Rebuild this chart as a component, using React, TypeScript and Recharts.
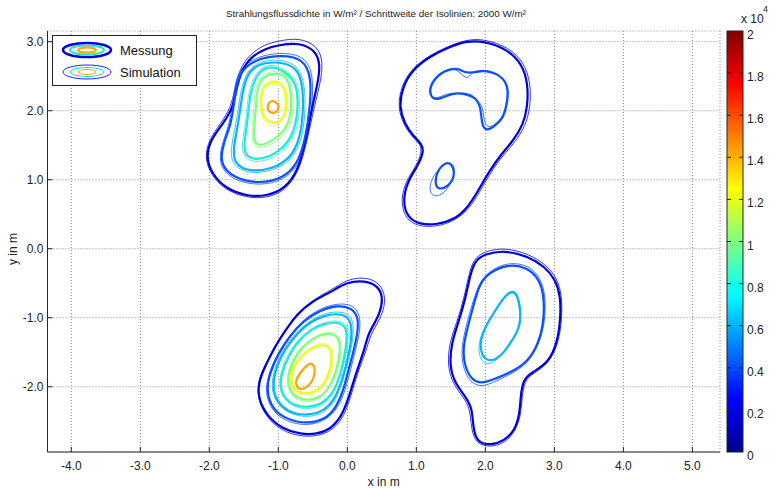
import React from "react";
import { LineChart, Line, XAxis, YAxis, CartesianGrid } from "recharts";

// axes
const X_TICKS = [-4, -3, -2, -1, 0, 1, 2, 3, 4, 5];
const Y_TICKS = [-2, -1, 0, 1, 2, 3];
const X_DOMAIN = [-4.345, 5.4];
const Y_DOMAIN = [-2.946, 3.155];

// isoline levels (W/m²) and their colors (jet)
const LEVELS = [2000, 4000, 6000, 8000, 10000, 12000, 14000];
const LEVEL_COLORS = ["#0000d8", "#0a50ff", "#08b4fa", "#20e8dc", "#80ff80", "#e8ff1a", "#ffa400"];
const CBAR_TICKS = [0, 0.2, 0.4, 0.6, 0.8, 1, 1.2, 1.4, 1.6, 1.8, 2];

// ---- blob 1 (top left) ----
const b1Mess2000 = [[-1.0, 2.95], [-0.69, 2.99], [-0.46, 2.87], [-0.39, 2.67], [-0.43, 2.39], [-0.51, 2.06], [-0.57, 1.72], [-0.64, 1.43], [-0.72, 1.13], [-0.9, 0.87], [-1.17, 0.76], [-1.46, 0.76], [-1.76, 0.87], [-1.96, 1.08], [-2.05, 1.33], [-1.98, 1.58], [-1.81, 1.8], [-1.66, 2.03], [-1.61, 2.3], [-1.54, 2.57], [-1.4, 2.78], [-1.19, 2.9]];
const b1Mess4000 = [[-0.98, 2.81], [-0.64, 2.76], [-0.52, 2.49], [-0.54, 2.06], [-0.6, 1.63], [-0.71, 1.24], [-0.93, 1.02], [-1.27, 0.94], [-1.65, 1.02], [-1.85, 1.23], [-1.8, 1.52], [-1.68, 1.81], [-1.63, 2.2], [-1.58, 2.54], [-1.36, 2.74]];
const b1Mess6000 = [[-1.0, 2.71], [-0.73, 2.64], [-0.64, 2.35], [-0.64, 1.96], [-0.69, 1.57], [-0.83, 1.31], [-1.07, 1.16], [-1.41, 1.11], [-1.65, 1.23], [-1.65, 1.48], [-1.58, 1.81], [-1.53, 2.2], [-1.46, 2.54], [-1.27, 2.69]];
const b1Mess8000 = [[-1.02, 2.64], [-0.73, 2.44], [-0.71, 2.06], [-0.76, 1.72], [-0.9, 1.48], [-1.12, 1.33], [-1.36, 1.28], [-1.51, 1.38], [-1.48, 1.62], [-1.44, 1.91], [-1.41, 2.25], [-1.31, 2.54], [-1.17, 2.63]];
const b1Mess10000 = [[-1.02, 2.55], [-0.86, 2.49], [-0.81, 2.2], [-0.82, 1.91], [-0.9, 1.72], [-1.07, 1.57], [-1.27, 1.48], [-1.36, 1.55], [-1.35, 1.77], [-1.32, 2.06], [-1.31, 2.35], [-1.19, 2.52]];
const b1Mess12000 = [[-1.05, 2.44], [-0.92, 2.37], [-0.87, 2.2], [-0.89, 1.94], [-1.0, 1.81], [-1.19, 1.84], [-1.26, 2.06], [-1.24, 2.3], [-1.17, 2.4]];
const b1Mess14000 = [[-1.08, 2.15], [-1.01, 2.11], [-0.99, 2.05], [-1.02, 1.98], [-1.08, 1.96], [-1.15, 1.99], [-1.16, 2.06], [-1.13, 2.13]];
const b1Sim2000 = [[-1.0, 3.01], [-0.7, 3.06], [-0.43, 2.94], [-0.35, 2.71], [-0.39, 2.4], [-0.48, 2.06], [-0.55, 1.72], [-0.62, 1.42], [-0.71, 1.11], [-0.9, 0.84], [-1.17, 0.73], [-1.47, 0.74], [-1.77, 0.85], [-1.98, 1.07], [-2.07, 1.33], [-2.0, 1.59], [-1.84, 1.81], [-1.69, 2.04], [-1.63, 2.32], [-1.56, 2.61], [-1.41, 2.82], [-1.2, 2.96]];
const b1Sim4000 = [[-0.98, 2.85], [-0.62, 2.8], [-0.49, 2.52], [-0.51, 2.07], [-0.57, 1.62], [-0.69, 1.22], [-0.92, 0.99], [-1.27, 0.91], [-1.67, 0.99], [-1.87, 1.22], [-1.82, 1.52], [-1.7, 1.82], [-1.65, 2.21], [-1.6, 2.56], [-1.37, 2.77]];
const b1Sim6000 = [[-1.0, 2.75], [-0.71, 2.67], [-0.61, 2.35], [-0.61, 1.95], [-0.66, 1.56], [-0.81, 1.28], [-1.07, 1.13], [-1.42, 1.08], [-1.68, 1.21], [-1.69, 1.47], [-1.61, 1.81], [-1.56, 2.2], [-1.48, 2.56], [-1.27, 2.72]];
const b1Sim8000 = [[-1.02, 2.67], [-0.71, 2.47], [-0.68, 2.06], [-0.73, 1.7], [-0.89, 1.44], [-1.12, 1.29], [-1.37, 1.24], [-1.54, 1.36], [-1.51, 1.62], [-1.46, 1.92], [-1.44, 2.26], [-1.33, 2.57], [-1.17, 2.66]];
const b1Sim10000 = [[-1.03, 2.58], [-0.84, 2.52], [-0.78, 2.2], [-0.79, 1.9], [-0.88, 1.68], [-1.07, 1.52], [-1.28, 1.44], [-1.39, 1.53], [-1.38, 1.78], [-1.35, 2.06], [-1.34, 2.36], [-1.21, 2.55]];
const b1Sim12000 = [[-1.05, 2.4], [-0.93, 2.33], [-0.89, 2.16], [-0.92, 1.9], [-1.02, 1.76], [-1.19, 1.79], [-1.28, 2.04], [-1.26, 2.28], [-1.17, 2.37]];

// ---- blob 2 (top right) ----
const b2Mess2000 = [[1.98, 3.01], [2.32, 2.89], [2.53, 2.68], [2.62, 2.39], [2.61, 2.05], [2.55, 1.8], [2.4, 1.56], [2.23, 1.37], [2.06, 1.13], [1.89, 0.83], [1.74, 0.59], [1.55, 0.42], [1.3, 0.35], [1.05, 0.35], [0.87, 0.45], [0.8, 0.7], [0.88, 0.99], [1.01, 1.18], [1.11, 1.4], [1.08, 1.52], [0.95, 1.64], [0.83, 1.81], [0.75, 2.05], [0.8, 2.35], [0.95, 2.6], [1.2, 2.79], [1.49, 2.93], [1.73, 3.01]];
const b2Mess4000a = [[1.18, 2.24], [1.23, 2.43], [1.4, 2.58], [1.59, 2.63], [1.73, 2.53], [1.93, 2.58], [2.07, 2.57], [2.27, 2.48], [2.34, 2.29], [2.31, 2.1], [2.27, 1.9], [2.12, 1.76], [2.02, 1.71], [1.95, 1.78], [1.94, 1.98], [1.9, 2.14], [1.78, 2.24], [1.59, 2.26], [1.44, 2.22], [1.28, 2.14]];
const b2Mess4000b = [[1.47, 1.26], [1.54, 1.18], [1.55, 1.04], [1.49, 0.94], [1.4, 0.87], [1.3, 0.87], [1.27, 0.97], [1.3, 1.11], [1.37, 1.21]];
const b2Sim2000 = [[1.98, 3.04], [2.34, 2.92], [2.56, 2.7], [2.66, 2.39], [2.65, 2.04], [2.58, 1.78], [2.43, 1.54], [2.25, 1.35], [2.08, 1.11], [1.91, 0.81], [1.76, 0.57], [1.55, 0.4], [1.3, 0.32], [1.03, 0.32], [0.84, 0.43], [0.77, 0.7], [0.85, 0.99], [0.99, 1.18], [1.08, 1.4], [1.06, 1.51], [0.93, 1.63], [0.81, 1.81], [0.73, 2.05], [0.78, 2.36], [0.94, 2.62], [1.2, 2.81], [1.5, 2.95], [1.74, 3.03]];
const b2Sim4000a = [[1.17, 2.24], [1.21, 2.43], [1.39, 2.59], [1.59, 2.62], [1.73, 2.43], [1.8, 2.56], [1.93, 2.59], [2.08, 2.58], [2.27, 2.48], [2.33, 2.28], [2.3, 2.09], [2.25, 1.9], [2.12, 1.78], [2.03, 1.76], [1.98, 1.84], [1.97, 2.01], [1.92, 2.13], [1.8, 2.2], [1.6, 2.26], [1.44, 2.25], [1.27, 2.16]];
const b2Sim4000b = [[1.49, 1.27], [1.57, 1.16], [1.52, 0.99], [1.42, 0.82], [1.3, 0.75], [1.2, 0.79], [1.19, 0.94], [1.28, 1.11], [1.4, 1.21]];

// ---- blob 3 (bottom left) ----
const b3Mess2000 = [[0.0, -0.48], [0.25, -0.46], [0.45, -0.54], [0.52, -0.72], [0.47, -0.93], [0.4, -1.07], [0.3, -1.24], [0.25, -1.45], [0.18, -1.65], [0.08, -1.95], [0.01, -2.19], [-0.09, -2.44], [-0.24, -2.61], [-0.44, -2.69], [-0.68, -2.69], [-0.94, -2.61], [-1.16, -2.43], [-1.29, -2.18], [-1.29, -1.93], [-1.18, -1.68], [-1.06, -1.44], [-0.94, -1.25], [-0.74, -0.95], [-0.49, -0.75], [-0.24, -0.63]];
const b3Mess4000 = [[-0.15, -0.82], [0.05, -0.85], [0.15, -0.97], [0.16, -1.16], [0.1, -1.45], [0.02, -1.74], [-0.05, -2.03], [-0.15, -2.28], [-0.29, -2.45], [-0.49, -2.52], [-0.73, -2.52], [-0.98, -2.42], [-1.12, -2.25], [-1.17, -2.03], [-1.12, -1.79], [-1.0, -1.52], [-0.83, -1.26], [-0.63, -1.04], [-0.39, -0.89]];
const b3Mess6000 = [[-0.17, -0.94], [0.0, -0.97], [0.07, -1.11], [0.05, -1.4], [-0.02, -1.69], [-0.1, -1.99], [-0.2, -2.2], [-0.34, -2.35], [-0.54, -2.41], [-0.76, -2.4], [-0.95, -2.3], [-1.06, -2.13], [-1.08, -1.94], [-1.02, -1.69], [-0.9, -1.45], [-0.73, -1.23], [-0.54, -1.06], [-0.34, -0.97]];
const b3Mess8000 = [[-0.17, -1.06], [-0.02, -1.11], [0.0, -1.31], [-0.05, -1.6], [-0.12, -1.89], [-0.22, -2.11], [-0.37, -2.25], [-0.56, -2.3], [-0.76, -2.28], [-0.9, -2.18], [-0.98, -2.01], [-0.95, -1.79], [-0.85, -1.55], [-0.71, -1.33], [-0.51, -1.16], [-0.34, -1.09]];
const b3Mess10000 = [[-0.24, -1.23], [-0.12, -1.28], [-0.1, -1.48], [-0.15, -1.74], [-0.24, -1.99], [-0.39, -2.16], [-0.56, -2.2], [-0.73, -2.17], [-0.84, -2.06], [-0.87, -1.86], [-0.8, -1.65], [-0.68, -1.45], [-0.51, -1.31], [-0.37, -1.24]];
const b3Mess12000 = [[-0.37, -1.38], [-0.24, -1.43], [-0.22, -1.6], [-0.27, -1.84], [-0.39, -2.03], [-0.56, -2.11], [-0.73, -2.08], [-0.82, -1.96], [-0.8, -1.77], [-0.71, -1.6], [-0.54, -1.45]];
const b3Mess14000 = [[-0.51, -1.65], [-0.46, -1.74], [-0.49, -1.89], [-0.56, -1.99], [-0.66, -2.05], [-0.74, -2.01], [-0.75, -1.89], [-0.66, -1.77], [-0.58, -1.68]];
const b3Sim2000 = [[0.0, -0.44], [0.27, -0.41], [0.48, -0.5], [0.56, -0.72], [0.51, -0.94], [0.43, -1.09], [0.33, -1.26], [0.28, -1.46], [0.2, -1.66], [0.1, -1.96], [0.03, -2.21], [-0.07, -2.47], [-0.23, -2.64], [-0.44, -2.72], [-0.69, -2.72], [-0.95, -2.64], [-1.17, -2.45], [-1.3, -2.18], [-1.3, -1.92], [-1.19, -1.68], [-1.06, -1.43], [-0.93, -1.23], [-0.73, -0.93], [-0.47, -0.72], [-0.23, -0.6]];
const b3Sim4000 = [[-0.14, -0.79], [0.08, -0.81], [0.18, -0.95], [0.19, -1.17], [0.12, -1.46], [0.05, -1.75], [-0.03, -2.05], [-0.13, -2.3], [-0.29, -2.47], [-0.49, -2.55], [-0.74, -2.55], [-0.99, -2.45], [-1.14, -2.26], [-1.19, -2.03], [-1.13, -1.78], [-1.01, -1.51], [-0.83, -1.24], [-0.62, -1.01], [-0.38, -0.86]];
const b3Sim6000 = [[-0.17, -0.91], [0.03, -0.93], [0.1, -1.1], [0.07, -1.41], [-0.01, -1.71], [-0.09, -2.0], [-0.19, -2.23], [-0.34, -2.38], [-0.54, -2.44], [-0.76, -2.42], [-0.96, -2.32], [-1.08, -2.13], [-1.1, -1.93], [-1.04, -1.69], [-0.92, -1.44], [-0.74, -1.21], [-0.54, -1.04], [-0.34, -0.94]];
const b3Sim8000 = [[-0.17, -1.03], [0.01, -1.09], [0.02, -1.31], [-0.03, -1.61], [-0.11, -1.9], [-0.21, -2.12], [-0.36, -2.27], [-0.56, -2.33], [-0.76, -2.3], [-0.92, -2.19], [-0.99, -2.01], [-0.97, -1.79], [-0.87, -1.54], [-0.72, -1.32], [-0.52, -1.15], [-0.34, -1.07]];
const b3Sim10000 = [[-0.24, -1.2], [-0.1, -1.26], [-0.08, -1.48], [-0.13, -1.75], [-0.23, -1.99], [-0.38, -2.16], [-0.56, -2.23], [-0.74, -2.2], [-0.85, -2.07], [-0.88, -1.86], [-0.82, -1.64], [-0.69, -1.44], [-0.51, -1.29], [-0.36, -1.22]];
const b3Sim12000 = [[-0.36, -1.35], [-0.22, -1.41], [-0.19, -1.6], [-0.25, -1.85], [-0.38, -2.05], [-0.56, -2.14], [-0.74, -2.11], [-0.84, -1.97], [-0.83, -1.76], [-0.72, -1.58], [-0.54, -1.43]];

// ---- blob 4 (bottom right) ----
const b4Mess2000 = [[1.99, -0.08], [2.27, -0.02], [2.62, -0.11], [2.86, -0.26], [3.01, -0.44], [3.09, -0.68], [3.09, -1.02], [3.04, -1.37], [2.91, -1.66], [2.66, -1.8], [2.55, -1.9], [2.51, -2.13], [2.5, -2.38], [2.43, -2.63], [2.28, -2.78], [2.08, -2.85], [1.88, -2.81], [1.82, -2.58], [1.81, -2.31], [1.71, -2.14], [1.56, -1.95], [1.48, -1.7], [1.51, -1.36], [1.61, -1.07], [1.71, -0.73], [1.78, -0.38], [1.85, -0.17]];
const b4Mess4000 = [[2.03, -0.36], [2.32, -0.22], [2.61, -0.27], [2.78, -0.44], [2.85, -0.68], [2.85, -1.02], [2.78, -1.36], [2.61, -1.65], [2.37, -1.79], [2.13, -1.89], [1.94, -1.96], [1.79, -1.89], [1.7, -1.7], [1.67, -1.45], [1.75, -1.11], [1.84, -0.78], [1.91, -0.53]];
const b4Mess6000 = [[2.37, -0.6], [2.47, -0.65], [2.52, -0.97], [2.49, -1.16], [2.37, -1.36], [2.25, -1.53], [2.13, -1.62], [2.01, -1.62], [1.93, -1.5], [1.93, -1.31], [2.01, -1.11], [2.13, -0.92], [2.25, -0.73]];
const b4Sim2000 = [[1.98, -0.04], [2.28, 0.02], [2.64, -0.08], [2.89, -0.24], [3.04, -0.43], [3.11, -0.68], [3.11, -1.02], [3.06, -1.37], [2.92, -1.67], [2.67, -1.82], [2.57, -1.92], [2.53, -2.14], [2.52, -2.39], [2.44, -2.64], [2.29, -2.81], [2.08, -2.88], [1.86, -2.83], [1.79, -2.58], [1.78, -2.32], [1.68, -2.15], [1.53, -1.96], [1.45, -1.7], [1.48, -1.35], [1.59, -1.06], [1.69, -0.72], [1.76, -0.37], [1.83, -0.15]];
const b4Sim4000 = [[2.04, -0.33], [2.33, -0.19], [2.63, -0.24], [2.8, -0.42], [2.87, -0.67], [2.87, -1.02], [2.79, -1.37], [2.62, -1.66], [2.37, -1.82], [2.13, -1.93], [1.94, -2.01], [1.77, -1.93], [1.67, -1.71], [1.65, -1.45], [1.72, -1.11], [1.82, -0.77], [1.9, -0.52]];
const b4Sim6000 = [[2.37, -0.62], [2.47, -0.68], [2.51, -0.99], [2.47, -1.19], [2.34, -1.39], [2.22, -1.56], [2.09, -1.67], [1.97, -1.67], [1.9, -1.53], [1.91, -1.32], [2.0, -1.11], [2.12, -0.92], [2.25, -0.74]];

type Contour = { level: number; sim: boolean; pts: number[][] };

const CONTOURS: Contour[] = [
  { level: 2000, sim: true, pts: b1Sim2000 },
  { level: 4000, sim: true, pts: b1Sim4000 },
  { level: 6000, sim: true, pts: b1Sim6000 },
  { level: 8000, sim: true, pts: b1Sim8000 },
  { level: 10000, sim: true, pts: b1Sim10000 },
  { level: 12000, sim: true, pts: b1Sim12000 },
  { level: 2000, sim: true, pts: b2Sim2000 },
  { level: 4000, sim: true, pts: b2Sim4000a },
  { level: 4000, sim: true, pts: b2Sim4000b },
  { level: 2000, sim: true, pts: b3Sim2000 },
  { level: 4000, sim: true, pts: b3Sim4000 },
  { level: 6000, sim: true, pts: b3Sim6000 },
  { level: 8000, sim: true, pts: b3Sim8000 },
  { level: 10000, sim: true, pts: b3Sim10000 },
  { level: 12000, sim: true, pts: b3Sim12000 },
  { level: 2000, sim: true, pts: b4Sim2000 },
  { level: 4000, sim: true, pts: b4Sim4000 },
  { level: 6000, sim: true, pts: b4Sim6000 },
  { level: 2000, sim: false, pts: b1Mess2000 },
  { level: 4000, sim: false, pts: b1Mess4000 },
  { level: 6000, sim: false, pts: b1Mess6000 },
  { level: 8000, sim: false, pts: b1Mess8000 },
  { level: 10000, sim: false, pts: b1Mess10000 },
  { level: 12000, sim: false, pts: b1Mess12000 },
  { level: 14000, sim: false, pts: b1Mess14000 },
  { level: 2000, sim: false, pts: b2Mess2000 },
  { level: 4000, sim: false, pts: b2Mess4000a },
  { level: 4000, sim: false, pts: b2Mess4000b },
  { level: 2000, sim: false, pts: b3Mess2000 },
  { level: 4000, sim: false, pts: b3Mess4000 },
  { level: 6000, sim: false, pts: b3Mess6000 },
  { level: 8000, sim: false, pts: b3Mess8000 },
  { level: 10000, sim: false, pts: b3Mess10000 },
  { level: 12000, sim: false, pts: b3Mess12000 },
  { level: 14000, sim: false, pts: b3Mess14000 },
  { level: 2000, sim: false, pts: b4Mess2000 },
  { level: 4000, sim: false, pts: b4Mess4000 },
  { level: 6000, sim: false, pts: b4Mess6000 },
];

const levelColor = (lvl: number) => LEVEL_COLORS[LEVELS.indexOf(lvl)];
const FONT = "'Liberation Sans', Arial, sans-serif";
const fmt = (v: number) => v.toFixed(1);

// colorbar geometry
const CB = { x: 727, y: 31, w: 16, h: 421 };

function Overlay() {
  const cbY = (v: number) => CB.y + CB.h - (v / 2) * CB.h;
  return (
    <svg width={776} height={488} style={{ position: "absolute", left: 0, top: 0, pointerEvents: "none" }}>
      <defs>
        <linearGradient id="jet" x1="0" y1="1" x2="0" y2="0">
          <stop offset="0" stopColor="#00008f" />
          <stop offset="0.125" stopColor="#0000ff" />
          <stop offset="0.375" stopColor="#00ffff" />
          <stop offset="0.625" stopColor="#ffff00" />
          <stop offset="0.875" stopColor="#ff0000" />
          <stop offset="1" stopColor="#800000" />
        </linearGradient>
      </defs>
      <text x={376} y={17} fontSize={9} fontFamily={FONT} fill="#222" textAnchor="middle" textLength={300} lengthAdjust="spacingAndGlyphs">
        Strahlungsflussdichte in W/m² / Schrittweite der Isolinien: 2000 W/m²
      </text>
      {/* legend */}
      <rect x={52.5} y={35.5} width={144} height={50} fill="#fff" stroke="#222" />
      <ellipse cx={87} cy={50} rx={24} ry={7} fill="none" stroke="#0000d8" strokeWidth={2.5} />
      <ellipse cx={87} cy={50} rx={17} ry={4.5} fill="none" stroke="#20e0d0" strokeWidth={2} />
      <ellipse cx={87} cy={50} rx={9} ry={2.5} fill="none" stroke="#ffa400" strokeWidth={2} />
      <ellipse cx={87} cy={72} rx={24} ry={7} fill="none" stroke="#2020ff" strokeWidth={1} />
      <ellipse cx={87} cy={72} rx={17} ry={4.5} fill="none" stroke="#10d8f0" strokeWidth={1} />
      <ellipse cx={87} cy={72} rx={9} ry={2.5} fill="none" stroke="#ffa400" strokeWidth={1} />
      <text x={120} y={55} fontSize={13} fontFamily={FONT} fill="#111">Messung</text>
      <text x={120} y={77} fontSize={13} fontFamily={FONT} fill="#111">Simulation</text>
      {/* y axis title */}
      <text x={0} y={0} transform="translate(17 249) rotate(-90)" fontSize={12} fontFamily={FONT} fill="#222" textAnchor="middle">
        y in m
      </text>
      {/* colorbar */}
      <rect x={CB.x} y={CB.y} width={CB.w} height={CB.h} fill="url(#jet)" stroke="#222" />
      {CBAR_TICKS.map((t) => (
        <g key={t}>
          {t > 0 && t < 2 && (
            <>
              <line x1={CB.x} x2={CB.x + 4} y1={cbY(t)} y2={cbY(t)} stroke="#222" />
              <line x1={CB.x + CB.w - 4} x2={CB.x + CB.w} y1={cbY(t)} y2={cbY(t)} stroke="#222" />
            </>
          )}
          <text x={747} y={cbY(t) + 8} fontSize={12} fontFamily={FONT} fill="#222">
            {String(t)}
          </text>
        </g>
      ))}
      <text x={741} y={23} fontSize={12} fontFamily={FONT} fill="#222">x 10</text>
      <text x={763} y={12} fontSize={9} fontFamily={FONT} fill="#222">4</text>
    </svg>
  );
}

export default function App() {
  const axisStroke = "#262626";
  const tickStyle = { fontSize: 12, fill: "#222", fontFamily: FONT };
  return (
    <div style={{ position: "absolute", left: 0, top: 0, width: 776, height: 488, background: "#fff" }}>
      <LineChart width={776} height={488} margin={{ top: 31, right: 56, bottom: 0, left: 0 }}>
        <CartesianGrid stroke="#8a8a8a" strokeDasharray="1 2" />
        <XAxis
          xAxisId={0}
          type="number"
          dataKey="x"
          domain={X_DOMAIN}
          ticks={X_TICKS}
          interval={0}
          allowDataOverflow
          height={36}
          tickSize={-5}
          tickMargin={14}
          tickFormatter={fmt}
          tick={tickStyle}
          stroke={axisStroke}
          label={{ value: "x in m", position: "insideBottom", offset: 2, style: { fontSize: 12, fill: "#222", fontFamily: FONT } }}
        />
        <XAxis
          xAxisId="top"
          orientation="top"
          type="number"
          dataKey="x"
          domain={X_DOMAIN}
          ticks={X_TICKS}
          interval={0}
          allowDataOverflow
          height={0}
          tickSize={-5}
          tick={false}
          stroke={axisStroke}
        />
        <YAxis
          yAxisId={0}
          type="number"
          dataKey="y"
          domain={Y_DOMAIN}
          ticks={Y_TICKS}
          interval={0}
          allowDataOverflow
          width={47.5}
          tickSize={-5}
          tickMargin={9}
          tickFormatter={fmt}
          tick={tickStyle}
          stroke={axisStroke}
        />
        <YAxis
          yAxisId="right"
          orientation="right"
          type="number"
          domain={Y_DOMAIN}
          ticks={Y_TICKS}
          interval={0}
          allowDataOverflow
          width={0}
          tickSize={-5}
          tick={false}
          stroke={axisStroke}
        />
        {CONTOURS.map((c, i) => (
          <Line
            key={i}
            data={c.pts.map(([x, y]) => ({ x, y }))}
            dataKey="y"
            type="basisClosed"
            stroke={levelColor(c.level)}
            strokeWidth={c.sim ? 0.8 : 2.2}
            dot={false}
            activeDot={false}
            isAnimationActive={false}
          />
        ))}
      </LineChart>
      <Overlay />
    </div>
  );
}
